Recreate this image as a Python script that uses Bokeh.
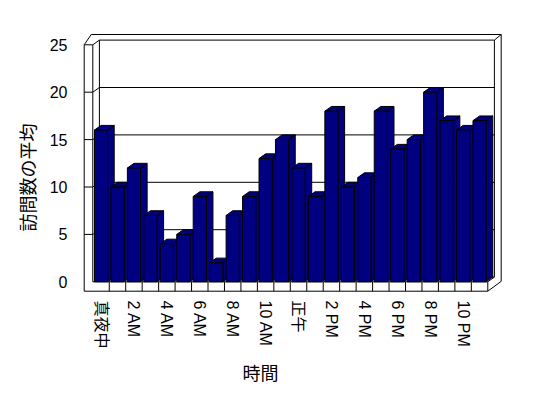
import numpy as np
from bokeh.plotting import figure
from bokeh.models import FixedTicker, Range1d, Title
from bokeh.embed import file_html
from bokeh.resources import INLINE

# ---- data ----
hours = ["真夜中", "1 AM", "2 AM", "3 AM", "4 AM", "5 AM", "6 AM", "7 AM", "8 AM",
         "9 AM", "10 AM", "11 AM", "正午", "1 PM", "2 PM", "3 PM", "4 PM", "5 PM",
         "6 PM", "7 PM", "8 PM", "9 PM", "10 PM", "11 PM"]
visits = [16, 10, 12, 7, 4, 5, 9, 2, 7, 9, 13, 15, 12, 9, 18, 10, 11, 18, 14, 15, 20, 17, 16, 17]
y_ticks = [0, 5, 10, 15, 20, 25]
x_title = "時間"
y_title = "訪問数の平均"

FONT = "Noto Sans CJK JP"
TICK_FONT = "Liberation Sans, Noto Sans CJK JP"
BAR_FILL = "#000080"

# ---- layout (pixel scales) ----
N = len(visits)
YMAX = y_ticks[-1]
XS = 16.458          # px per category
YS = 9.48            # px per value unit
FRAME_W, FRAME_H = 430, 270
x0 = -13.3 / XS
y0 = -17.7 / YS
DX = 6.6 / XS        # depth offset (data units)
DY = 4.7 / YS
WT = 8.6 / XS        # left wall slab thickness
FT = 9.4 / YS        # floor slab thickness
BW = 0.8             # bar width
OT = YMAX + 10.3 / YS        # outer top of back wall
OR = N + 13.4 / XS           # outer right of back wall
OL = -1.6 / XS               # outer top-left corner x

p = figure(frame_width=FRAME_W, frame_height=FRAME_H, output_backend="svg", toolbar_location=None,
           x_range=Range1d(x0, x0 + FRAME_W / XS), y_range=Range1d(y0, y0 + FRAME_H / YS),
           min_border_left=79, min_border_right=21, min_border_top=29, min_border_bottom=60)
p.title.visible = False
p.outline_line_color = None
p.background_fill_color = "white"
p.border_fill_color = "white"
p.xgrid.visible = False
p.ygrid.visible = False

# axes
p.yaxis.ticker = FixedTicker(ticks=y_ticks)
p.yaxis.axis_line_color = None
p.yaxis.major_tick_line_color = None
p.yaxis.minor_tick_line_color = None
p.yaxis.major_label_standoff = 6
p.yaxis.major_label_text_font = TICK_FONT
p.yaxis.major_label_text_font_size = "16px"
p.yaxis.major_label_text_color = "black"

label_pos = [i + 0.5 for i in range(0, N, 2)]
p.xaxis.ticker = FixedTicker(ticks=label_pos)
p.xaxis.major_label_overrides = {i + 0.5: hours[i] for i in range(0, N, 2)}
p.xaxis.major_label_orientation = "vertical"
p.xaxis.axis_line_color = None
p.xaxis.major_tick_line_color = None
p.xaxis.minor_tick_line_color = None
p.xaxis.major_label_standoff = -5
p.xaxis.major_label_text_font = TICK_FONT
p.xaxis.major_label_text_font_size = "16px"
p.xaxis.major_label_text_color = "black"

# ---- back wall, side wall, grid ----
lx, ly = [], []
for v in y_ticks[1:]:
    lx.append([DX, N + DX]); ly.append([v + DY, v + DY])
    lx.append([-WT, 0, DX]); ly.append([v, v, v + DY])
lx.append([DX, N + DX]); ly.append([DY, DY])
lx.append([DX, DX]); ly.append([DY, YMAX + DY])
lx.append([N + DX, N + DX]); ly.append([DY, YMAX + DY])
lx.append([-WT, -WT]); ly.append([YMAX, -FT])
lx.append([0, 0]); ly.append([YMAX, 0])
lx.append([-WT, OL, OR, OR]); ly.append([YMAX, OT, OT, DY - 0.45])
lx.append([N + DX, OR]); ly.append([YMAX + DY, OT])
p.multi_line(lx, ly, line_color="black", line_width=1)

# ---- bars (side, top, front for each, drawn left to right) ----
bxs, bys = [], []
for i, v in enumerate(visits):
    l = i + 0.5 - BW / 2
    r = i + 0.5 + BW / 2
    bxs.append([r, r + DX, r + DX, r]); bys.append([0, DY, v + DY, v])
    bxs.append([l, r, r + DX, l + DX]); bys.append([v, v, v + DY, v + DY])
    bxs.append([l, r, r, l]); bys.append([0, 0, v, v])
p.patches(bxs, bys, fill_color=BAR_FILL, line_color="black", line_width=1)

# ---- floor front face ----
fx, fy = [], []
fx.append([0, N]); fy.append([0, 0])
fx.append([-WT, N]); fy.append([-FT, -FT])
fx.append([N, N]); fy.append([-FT, 0])
fx.append([N, N + DX]); fy.append([0, DY])
fx.append([N, OR]); fy.append([-FT, DY - 0.45])
for k in range(1, N):
    fx.append([k, k]); fy.append([-FT, 0])
p.multi_line(fx, fy, line_color="black", line_width=1)

# ---- axis titles ----
p.add_layout(Title(text=y_title, align="left", offset=68, standoff=14,
                   text_font=FONT, text_font_size="18px", text_font_style="normal",
                   text_color="black"), "left")
p.add_layout(Title(text=x_title, align="left", offset=163, standoff=10,
                   text_font=FONT, text_font_size="18px", text_font_style="normal",
                   text_color="black"), "below")

open("out.html", "w").write(file_html(p, INLINE))
